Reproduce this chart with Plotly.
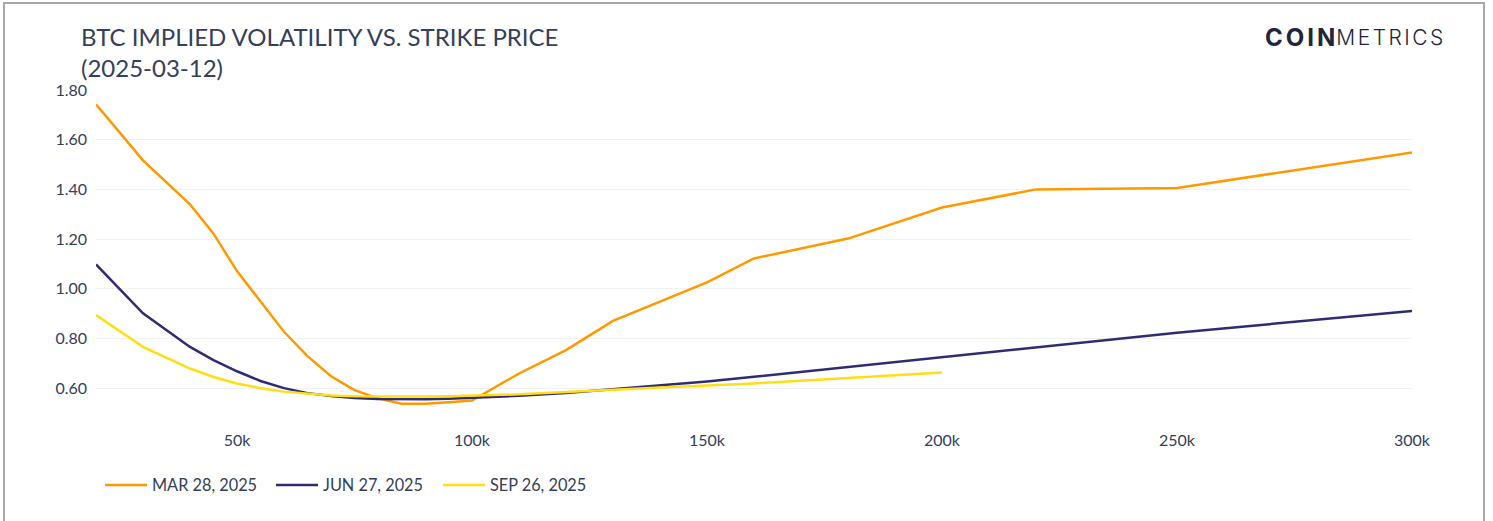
import plotly.graph_objects as go

# ---- data (strike in USD, implied vol as fraction) ----
mar_strikes = [20000, 30000, 40000, 45000, 50000, 55000, 60000, 65000, 70000, 75000, 80000, 85000,
               90000, 95000, 100000, 110000, 120000, 130000, 140000, 150000, 160000, 180000,
               200000, 220000, 250000, 300000]
mar_iv = [1.742, 1.517, 1.340, 1.222, 1.071, 0.950, 0.827, 0.729, 0.648, 0.592, 0.559, 0.537,
          0.537, 0.543, 0.550, 0.659, 0.753, 0.871, 0.947, 1.026, 1.122, 1.202,
          1.327, 1.400, 1.406, 1.548]

jun_strikes = [20000, 30000, 40000, 45000, 50000, 55000, 60000, 65000, 70000, 75000, 80000, 85000,
               90000, 95000, 100000, 110000, 120000, 130000, 140000, 150000, 160000, 180000,
               200000, 220000, 250000, 300000]
jun_iv = [1.098, 0.901, 0.766, 0.713, 0.668, 0.629, 0.600, 0.580, 0.568, 0.560, 0.556, 0.555,
          0.555, 0.557, 0.560, 0.569, 0.580, 0.595, 0.610, 0.627, 0.646, 0.686,
          0.726, 0.764, 0.823, 0.911]

sep_strikes = [20000, 30000, 40000, 45000, 50000, 55000, 60000, 65000, 70000, 75000, 80000, 85000,
               90000, 95000, 100000, 110000, 120000, 130000, 140000, 150000, 160000, 180000, 200000]
sep_iv = [0.894, 0.766, 0.679, 0.645, 0.619, 0.600, 0.586, 0.577, 0.570, 0.567, 0.566, 0.566,
          0.566, 0.567, 0.569, 0.575, 0.585, 0.595, 0.603, 0.611, 0.619, 0.641, 0.663]

series_names = ["MAR 28, 2025", "JUN 27, 2025", "SEP 26, 2025"]
series_colors = ["#FF9900", "#2F2C74", "#FFDF14"]
legend_widths = [114, 110, 104]

x_tickvals = [50000, 100000, 150000, 200000, 250000, 300000]
x_ticktext = ["50k", "100k", "150k", "200k", "250k", "300k"]
y_tickvals = [0.6, 0.8, 1.0, 1.2, 1.4, 1.6, 1.8]

TEXT = "#34405A"
FONT = "Lato, 'Open Sans', sans-serif"

fig = go.Figure()
for xs, ys, name, col, lw in zip([mar_strikes, jun_strikes, sep_strikes],
                                 [mar_iv, jun_iv, sep_iv], series_names, series_colors,
                                 legend_widths):
    fig.add_trace(go.Scatter(x=xs, y=ys, mode="lines", name=name, legendwidth=lw,
                             line=dict(color=col, width=2.5)))

W, H = 1493, 521
L, R, T, B = 96, 1412, 90, 413
pw, ph = R - L, B - T

def px(xp):
    return (xp - L) / pw

def py(yp):
    return (B - yp) / ph

fig.update_layout(
    width=W, height=H,
    margin=dict(l=L, r=W - R, t=T, b=H - B, pad=0),
    paper_bgcolor="white", plot_bgcolor="white",
    font=dict(family=FONT, color=TEXT, size=16),
    title=dict(text="BTC IMPLIED VOLATILITY VS. STRIKE PRICE<br>(2025-03-12)",
               x=81 / W, xref="container", xanchor="left",
               y=1 - 46 / H, yref="container", yanchor="top",
               font=dict(family=FONT, size=24, color=TEXT)),
    showlegend=True,
    legend=dict(orientation="h", x=px(100), xanchor="left", y=py(468), yanchor="top",
                font=dict(family=FONT, size=16.3, color=TEXT), itemwidth=42,
                bgcolor="rgba(0,0,0,0)", traceorder="normal"),
    xaxis=dict(range=[20000, 300000], tickvals=x_tickvals, ticktext=x_ticktext,
               showgrid=False, zeroline=False, showline=False, ticks="",
               ticklabelstandoff=16, tickfont=dict(size=16, color=TEXT)),
    yaxis=dict(range=[0.5, 1.8], tickvals=y_tickvals, tickformat=".2f",
               showgrid=True, gridcolor="#F1F1F1", gridwidth=1, zeroline=False,
               showline=False, ticks="", ticklabelstandoff=8,
               tickfont=dict(size=16, color=TEXT)),
)

# outer frame
fig.add_shape(type="rect", xref="paper", yref="paper",
              x0=px(4), x1=px(1484), y0=py(540), y1=py(3),
              line=dict(color="#A8A8A8", width=2), fillcolor="rgba(0,0,0,0)", layer="below")

# logo
fig.add_annotation(text="<b>COIN</b>", xref="paper", yref="paper", x=px(1301), y=py(38),
                   xanchor="center", yanchor="middle", showarrow=False,
                   font=dict(family="Inter, sans-serif", size=24, color="#22253A", weight=900))
fig.add_annotation(text="METRICS", xref="paper", yref="paper", x=px(1391), y=py(38),
                   xanchor="center", yanchor="middle", showarrow=False,
                   font=dict(family="Inter, sans-serif", size=21, color="#22253A", weight=300))

post = """
document.body.style.margin = '0';
document.querySelectorAll('.annotation-text').forEach(function(t){
  var s = t.textContent;
  if (s === 'COIN') { t.style.letterSpacing = '3px'; }
  if (s === 'METRICS') { t.style.letterSpacing = '2.5px'; }
});
"""

fig.write_html("out.html", post_script=post, config={"displayModeBar": False})
